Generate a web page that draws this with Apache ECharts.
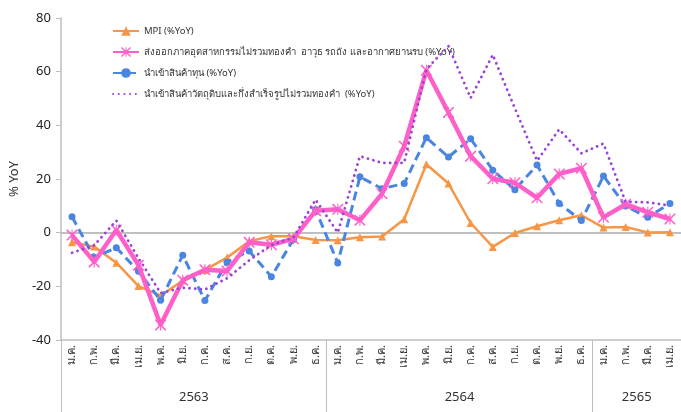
<!DOCTYPE html>
<html>
<head>
<meta charset="utf-8">
<script src="https://cdn.jsdelivr.net/npm/echarts@6/dist/echarts.min.js"></script>
<style>
  html, body { margin: 0; padding: 0; background: #fff; }
  #chart { width: 681px; height: 412px; }
</style>
</head>
<body>
<div id="chart"></div>
<script>
const monthNames = ['ม.ค.', 'ก.พ.', 'มี.ค.', 'เม.ย.', 'พ.ค.', 'มิ.ย.', 'ก.ค.', 'ส.ค.', 'ก.ย.', 'ต.ค.', 'พ.ย.', 'ธ.ค.']
const months = [...monthNames, ...monthNames, ...monthNames.slice(0, 4)]
const years = ['2563', '2564', '2565']
const yearSpans = [12, 12, 4]

const seriesNames = [
  'MPI (%YoY)',
  'ส่งออกภาคอุตสาหกรรมไม่รวมทองคำ  อาวุธ รถถัง และอากาศยานรบ (%YoY)',
  'นำเข้าสินค้าทุน (%YoY)',
  'นำเข้าสินค้าวัตถุดิบและกึ่งสำเร็จรูปไม่รวมทองคำ  (%YoY)'
]

const mpi = [-3.6, -5.2, -11.2, -19.9, -23.5, -17.8, -13.9, -9.3, -3.2, -1.3, -1.3, -2.7,
  -2.8, -1.7, -1.4, 5, 25.5, 18.3, 3.6, -5.3, -0.1, 2.4, 4.6, 6.5, 1.9, 2.1, 0.1, 0.2]
const exportInd = [-0.9, -10.9, 1.0, -12.1, -34.4, -17.7, -13.8, -14.3, -3.6, -4.5, -2.3, 8.2,
  8.7, 4.6, 14.5, 32.2, 60.5, 44.8, 28.5, 20.1, 18.6, 13.0, 21.9, 24.0, 5.7, 10.6, 7.6, 5.1]
const capitalImp = [5.9, -9.2, -5.6, -14.4, -25.2, -8.4, -25.3, -11.0, -6.8, -16.4, -2.5, 8.6,
  -11.3, 20.8, 16.4, 18.3, 35.4, 28.2, 35.0, 23.3, 16.0, 25.2, 10.9, 4.5, 21.1, 9.9, 5.7, 10.9]
const rawImp = [-7.5, -4.7, 4.5, -9.5, -22.5, -20.5, -21.2, -17, -10.3, -4.6, -1.8, 12.3,
  0, 28.5, 26, 26, 61, 69.5, 50.2, 66.3, 46.3, 26.8, 38.5, 29.6, 33.2, 11.5, 11.3, 10.1]

const yTicks = { min: -40, max: 80, step: 20 }

const yearEdges = [0]
yearSpans.forEach(s => yearEdges.push(yearEdges[yearEdges.length - 1] + s))
const yearCenters = yearSpans.map((s, i) => yearEdges[i] + s / 2)

const font = "'Noto Sans', 'DejaVu Sans', sans-serif"
const axisGrey = '#BFBFBF'
const starPath = 'path://M0,0L2,0L10,8L18,0L20,0L20,2L12,10L20,18L20,20L18,20L10,12L2,20L0,20L0,18L8,10L0,2Z M9,0L11,0L11,20L9,20Z'

const chart = echarts.init(document.getElementById('chart'), null, { renderer: 'canvas' })

const option = {
  animation: false,
  textStyle: { fontFamily: font },
  grid: { left: 52, top: 18, width: 632, height: 322, containLabel: false },
  legend: {
    data: [
      seriesNames[0],
      seriesNames[1],
      seriesNames[2],
      { name: seriesNames[3], itemStyle: { opacity: 0 } }
    ],
    orient: 'vertical',
    left: 107,
    top: 21,
    itemWidth: 26,
    itemHeight: 12,
    itemGap: 11,
    textStyle: { fontSize: 9.5, color: '#333', fontFamily: font }
  },
  xAxis: [
    {
      type: 'category',
      data: months,
      position: 'bottom',
      boundaryGap: true,
      axisLine: { onZero: false, lineStyle: { color: axisGrey, width: 1.5 } },
      axisTick: { interval: 0, length: 30, lineStyle: { color: axisGrey } },
      axisLabel: { interval: 0, rotate: 90, fontSize: 11, color: '#333', margin: 5 }
    },
    {
      type: 'category',
      data: months,
      position: 'bottom',
      boundaryGap: true,
      axisLine: { onZero: true, onZeroAxisIndex: 0, lineStyle: { color: axisGrey, width: 2 } },
      axisTick: { interval: 0, length: 5, lineStyle: { color: axisGrey } },
      axisLabel: { show: false },
      splitLine: { show: false }
    },
    {
      type: 'value',
      min: 0,
      max: months.length,
      position: 'bottom',
      axisLine: { show: false, onZero: false },
      splitLine: { show: false },
      axisTick: { show: true, customValues: yearEdges, length: 72, lineStyle: { color: axisGrey } },
      axisLabel: {
        customValues: yearCenters,
        formatter: v => years[yearCenters.indexOf(v)] || '',
        margin: 51,
        fontSize: 13,
        color: '#333'
      }
    }
  ],
  yAxis: {
    type: 'value',
    min: yTicks.min,
    max: yTicks.max,
    interval: yTicks.step,
    name: '% YoY',
    nameLocation: 'middle',
    nameRotate: 90,
    nameGap: 36,
    nameTextStyle: { fontSize: 13, color: '#333' },
    axisLine: { show: true, onZero: false, lineStyle: { color: axisGrey, width: 1.5 } },
    axisTick: { show: true, length: 5, lineStyle: { color: axisGrey } },
    axisLabel: { fontSize: 13, color: '#222', margin: 10 },
    splitLine: { show: false }
  },
  series: [
    {
      name: seriesNames[0],
      type: 'line',
      data: mpi,
      color: '#F79646',
      symbol: 'triangle',
      symbolSize: 8,
      lineStyle: { width: 2.5 },
      z: 2
    },
    {
      name: seriesNames[1],
      type: 'line',
      data: exportInd,
      color: '#FF5FC8',
      symbol: starPath,
      symbolSize: 11,
      lineStyle: { width: 4.5 },
      z: 4
    },
    {
      name: seriesNames[2],
      type: 'line',
      data: capitalImp,
      color: '#4A85E0',
      symbol: 'circle',
      symbolSize: 7,
      lineStyle: { width: 3, type: [9, 5] },
      z: 3
    },
    {
      name: seriesNames[3],
      type: 'line',
      data: rawImp,
      color: '#9A44D4',
      symbol: 'none',
      lineStyle: { width: 2.8, type: [0.1, 5.6], cap: 'round' },
      z: 5
    }
  ]
}

chart.setOption(option)
</script>
</body>
</html>
